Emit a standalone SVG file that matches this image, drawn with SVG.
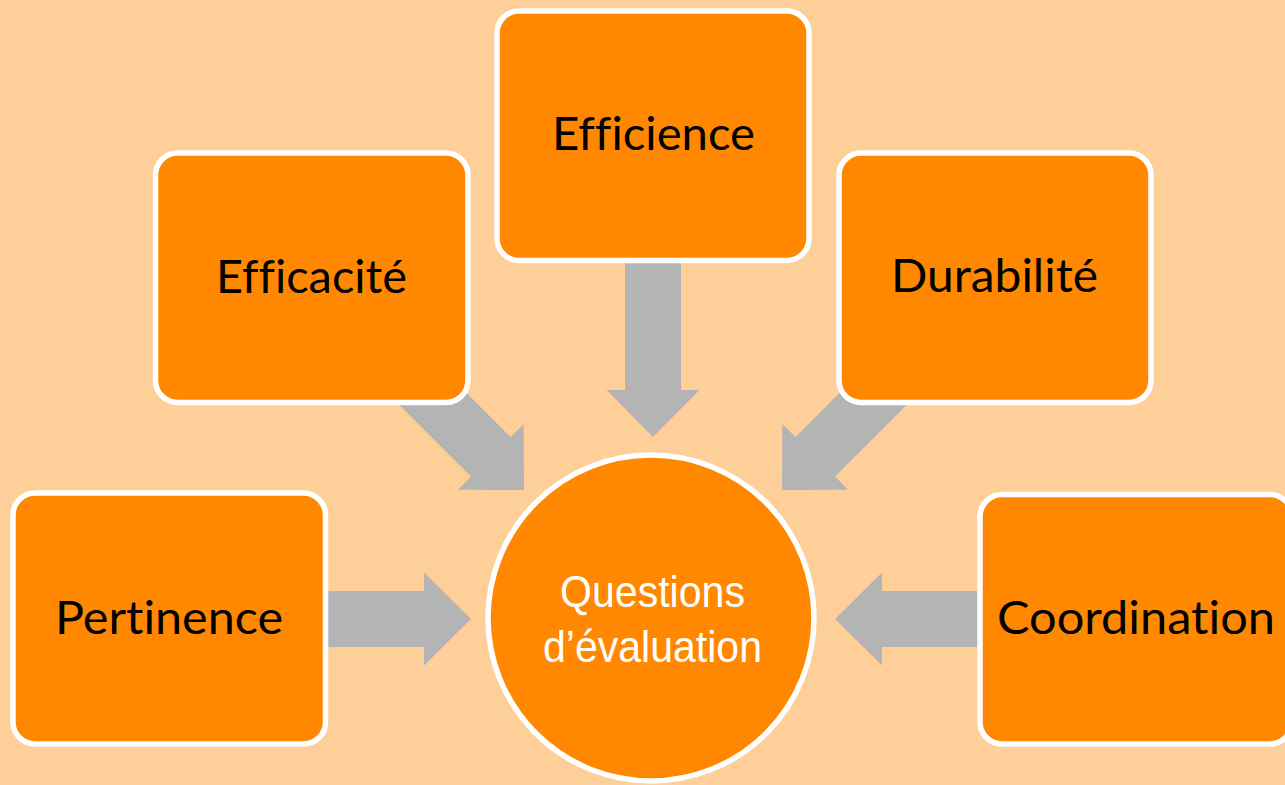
<svg xmlns="http://www.w3.org/2000/svg" width="1285" height="785" viewBox="0 0 1285 785">
  <defs>
    <style>
      .box { fill: #FF8800; stroke: #FFFFFF; stroke-width: 5.5; }
      .lbl { font-family: Lato, "Liberation Sans", sans-serif; font-size: 47px; fill: #000000; text-anchor: middle; font-variant-ligatures: none; font-feature-settings: "liga" 0, "clig" 0; }
      .clbl { font-family: "Liberation Sans", Arial, sans-serif; font-size: 44px; fill: #FFFFFF; text-anchor: middle; }
      .arrow { fill: #B4B4B4; }
    </style>
    <path id="arr" d="M -200 -28 H -47 V -46.5 L 0 0 L -47 46.5 V 28 H -200 Z"/>
  </defs>
  <rect x="0" y="0" width="1285" height="785" fill="#FFCF99"/>
  <g id="connectors" class="arrow">
    <use href="#arr" transform="translate(471,619)"/>
    <use href="#arr" transform="translate(835,619) rotate(180)"/>
    <use href="#arr" transform="translate(653,437) rotate(90)"/>
    <use href="#arr" transform="translate(524,490) rotate(45)"/>
    <use href="#arr" transform="translate(782,490) rotate(135)"/>
  </g>
  <g id="node-pertinence">
    <rect class="box" x="13" y="493" width="312.5" height="251" rx="22"/>
    <text class="lbl" x="169" y="634" textLength="228" lengthAdjust="spacingAndGlyphs">Pertinence</text>
  </g>
  <g id="node-efficacite">
    <rect class="box" x="155.5" y="153" width="312.5" height="249.5" rx="22"/>
    <text class="lbl" x="311.5" y="292.5" textLength="191" lengthAdjust="spacingAndGlyphs">Efficacité</text>
  </g>
  <g id="node-efficience">
    <rect class="box" x="497" y="11" width="312" height="249.5" rx="22"/>
    <text class="lbl" x="653.5" y="150" textLength="203" lengthAdjust="spacingAndGlyphs">Efficience</text>
  </g>
  <g id="node-durabilite">
    <rect class="box" x="839" y="153" width="312" height="249.5" rx="22"/>
    <text class="lbl" x="994.5" y="292" textLength="207" lengthAdjust="spacingAndGlyphs">Durabilité</text>
  </g>
  <g id="node-coordination">
    <rect class="box" x="980" y="494.5" width="312" height="249.5" rx="22"/>
    <text class="lbl" x="1136" y="634" textLength="278" lengthAdjust="spacingAndGlyphs">Coordination</text>
  </g>
  <g id="node-questions">
    <circle class="box" cx="651" cy="618" r="163"/>
    <text class="clbl" x="652.5" y="607" textLength="185" lengthAdjust="spacingAndGlyphs">Questions</text>
    <text class="clbl" x="652.5" y="662" textLength="219" lengthAdjust="spacingAndGlyphs">d’évaluation</text>
  </g>
</svg>
